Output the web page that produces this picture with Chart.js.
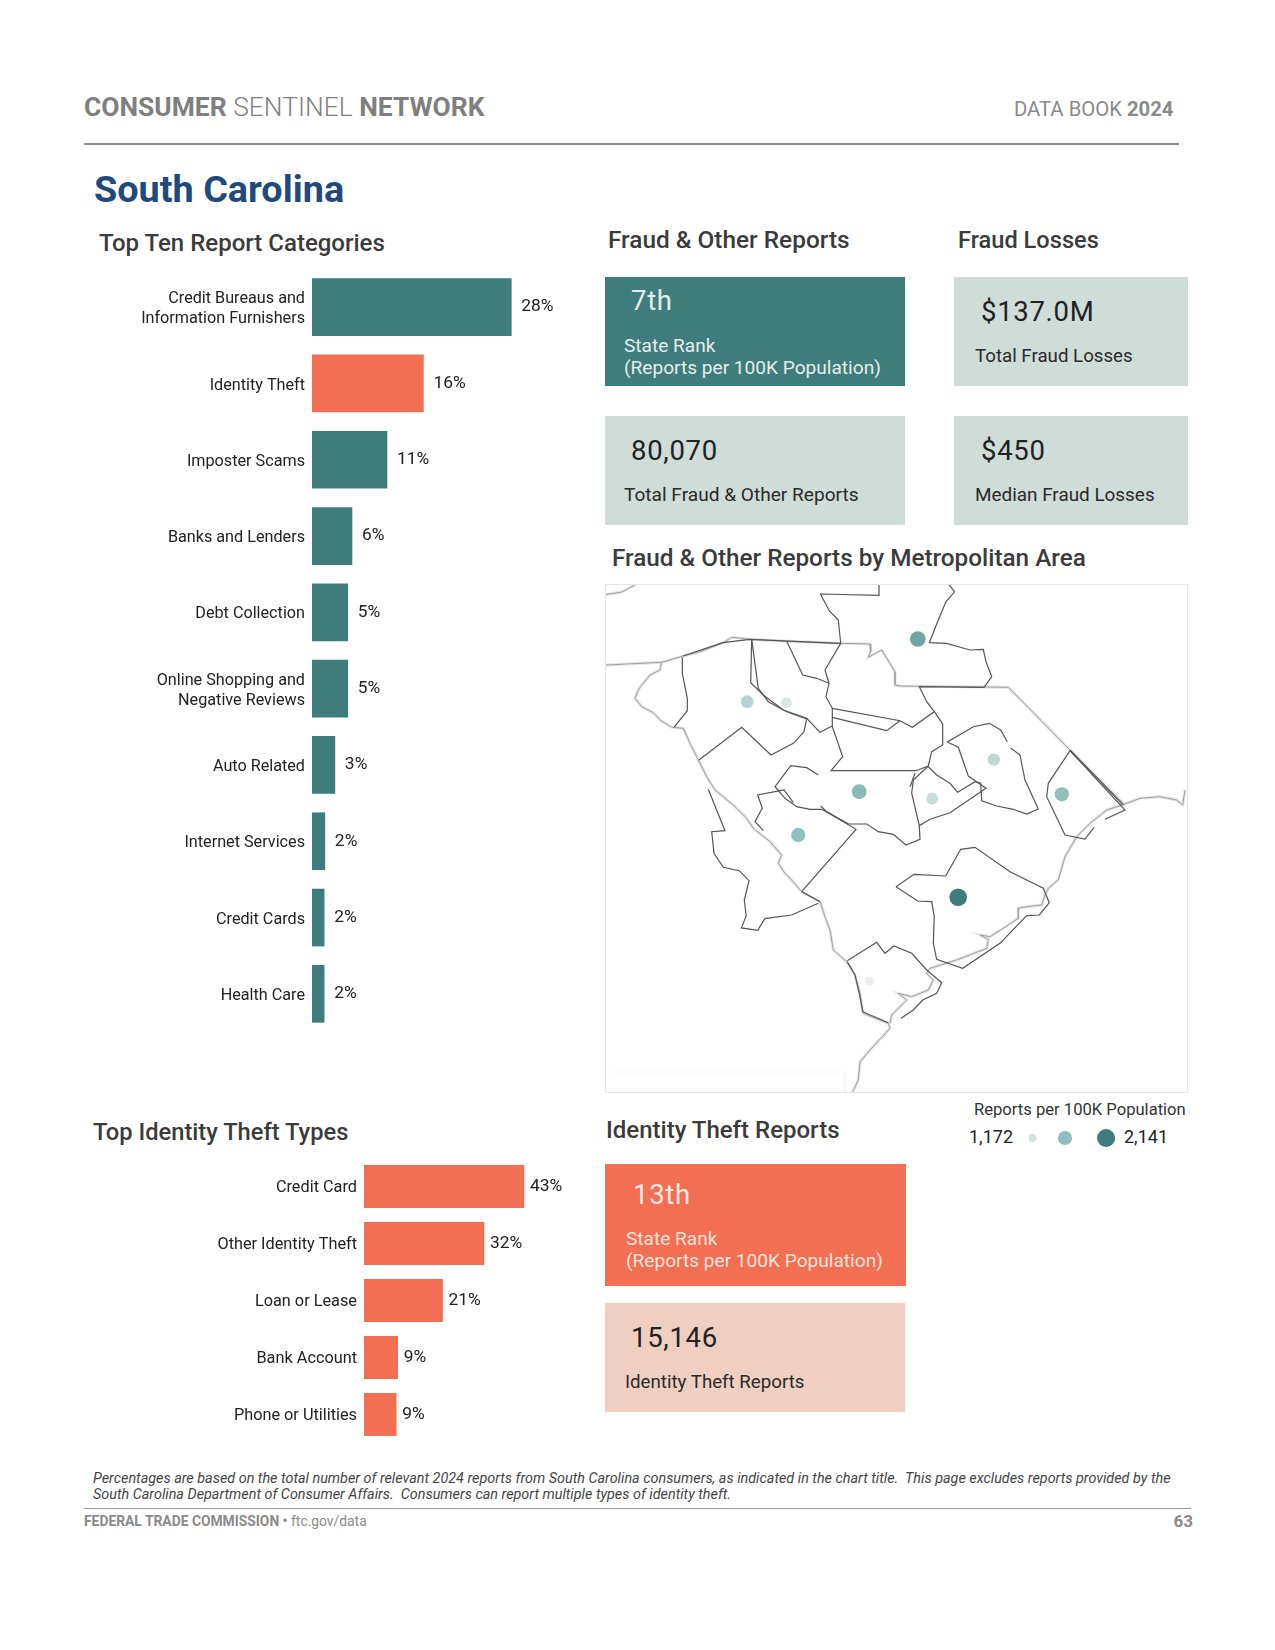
<!DOCTYPE html>
<html>
<head>
<meta charset="utf-8">
<title>South Carolina</title>
<script src="https://cdn.jsdelivr.net/npm/chart.js@4"></script>
<style>
  body { margin: 0; background: #fff; font-family: Roboto, sans-serif; color: #222; }
  #page { position: relative; width: 1275px; height: 1650px; overflow: hidden; }
  .t { position: absolute; white-space: nowrap; transform: translateY(-50%); line-height: 1; }
  .h { font-size: 24px; font-weight: 500; color: #3b3b3b; }
  .big { font-size: 27.5px; color: #222; letter-spacing: 0.7px; }
  .small { font-size: 19.1px; color: #2a2a2a; }
  .lt { color: #e4eeeb; }
  .box, .rule, canvas { position: absolute; }
  .note { font-size: 14.38px; font-style: italic; color: #444; }
</style>
</head>
<body>
<div id="page">
  <div class="t" style="left:84px;top:107px;font-size:26.4px;color:#7f7f7f;font-weight:700">CONSUMER <span style="font-weight:300">SENTINEL</span> NETWORK</div>
  <div class="t" style="left:1014px;top:109px;font-size:20.3px;color:#8a8a8a">DATA BOOK <b>2024</b></div>
  <div class="rule" style="left:84px;top:143px;width:1095px;height:2px;background:#8c8c8c"></div>

  <div class="t" style="left:94px;top:190px;font-size:37.8px;font-weight:700;color:#1f4a7a">South Carolina</div>
  <div class="t h" style="left:99px;top:243px">Top Ten Report Categories</div>
  <div class="t h" style="left:608px;top:240px;font-size:24.4px">Fraud &amp; Other Reports</div>
  <div class="t h" style="left:958px;top:241px;font-size:23.6px">Fraud Losses</div>

  <div class="box" style="left:604.5px;top:277px;width:300px;height:109px;background:#3e7d7c"></div>
  <div class="box" style="left:954px;top:277px;width:234px;height:109px;background:#d0dcd8"></div>
  <div class="box" style="left:604.5px;top:416px;width:300px;height:109px;background:#d0dcd8"></div>
  <div class="box" style="left:954px;top:416px;width:234px;height:109px;background:#d0dcd8"></div>

  <div class="t big lt" style="left:631px;top:301px">7th</div>
  <div class="t small lt" style="left:624px;top:346px">State Rank</div>
  <div class="t small lt" style="left:624px;top:368px">(Reports per 100K Population)</div>
  <div class="t big" style="left:981px;top:312px">$137.0M</div>
  <div class="t small" style="left:975px;top:356px;font-size:18.7px">Total Fraud Losses</div>
  <div class="t big" style="left:631px;top:451px">80,070</div>
  <div class="t small" style="left:624px;top:495px">Total Fraud &amp; Other Reports</div>
  <div class="t big" style="left:981px;top:451px">$450</div>
  <div class="t small" style="left:975px;top:495px;font-size:18.9px">Median Fraud Losses</div>

  <div class="t h" style="left:612px;top:558px;font-size:24.3px">Fraud &amp; Other Reports by Metropolitan Area</div>
  <canvas id="mapChart" width="581" height="507" style="left:606px;top:585px;outline:1px solid #e6e6e6"></canvas>

  <canvas id="topChart" width="478" height="763" style="left:84px;top:269px"></canvas>

  <div class="t h" style="left:93px;top:1133px;font-size:23.7px">Top Identity Theft Types</div>
  <canvas id="idChart" width="480" height="285" style="left:84px;top:1158px"></canvas>

  <div class="t h" style="left:606px;top:1130px">Identity Theft Reports</div>
  <div class="t" style="left:974px;top:1110px;font-size:16.6px;color:#333">Reports per 100K Population</div>
  <div class="t" style="left:969px;top:1137px;font-size:18px">1,172</div>
  <canvas id="legendChart" width="93" height="30" style="left:1022px;top:1123px"></canvas>
  <div class="t" style="left:1124px;top:1137px;font-size:18px">2,141</div>

  <div class="box" style="left:605px;top:1164px;width:301px;height:122px;background:#f26f54"></div>
  <div class="box" style="left:604.5px;top:1303px;width:300px;height:109px;background:#eecfc2"></div>
  <div class="t big" style="left:633px;top:1195px;color:#fbe9e3">13th</div>
  <div class="t small" style="left:626px;top:1239px;color:#fbe3db">State Rank</div>
  <div class="t small" style="left:626px;top:1261px;color:#fbe3db">(Reports per 100K Population)</div>
  <div class="t big" style="left:631px;top:1338px">15,146</div>
  <div class="t small" style="left:625px;top:1382px;font-size:18.7px">Identity Theft Reports</div>

  <div class="t note" style="left:93px;top:1479px">Percentages are based on the total number of relevant 2024 reports from South Carolina consumers, as indicated in the chart title.&nbsp; This page excludes reports provided by the</div>
  <div class="t note" style="left:93px;top:1495px">South Carolina Department of Consumer Affairs.&nbsp; Consumers can report multiple types of identity theft.</div>
  <div class="rule" style="left:84px;top:1508px;width:1107px;height:1px;background:#999"></div>
  <div class="t" style="left:84px;top:1522px;font-size:13.85px;color:#8a8a8a"><b>FEDERAL TRADE COMMISSION • </b>ftc.gov/data</div>
  <div class="t" style="right:82px;top:1521px;font-size:17px;font-weight:700;color:#8a8a8a">63</div>
</div>

<script>
// top ten categories
const topLabels = [
  ["Credit Bureaus and", "Information Furnishers"], "Identity Theft", "Imposter Scams", "Banks and Lenders",
  "Debt Collection", ["Online Shopping and", "Negative Reviews"], "Auto Related", "Internet Services",
  "Credit Cards", "Health Care"
];
const topValues = [27.9, 15.6, 10.5, 5.6, 5.0, 5.0, 3.2, 1.8, 1.7, 1.7];

// identity theft types
const idLabels = ["Credit Card", "Other Identity Theft", "Loan or Lease", "Bank Account", "Phone or Utilities"];
const idValues = [43.2, 32.4, 21.2, 9.1, 8.7];

// metro areas, x/y
const metroX = [917.8, 747.2, 786.5, 993.8, 1061.8, 859.2, 932.2, 798.2, 958.2, 869.5];
const metroY = [639, 701.7, 702.7, 759.7, 794.3, 791.7, 798.7, 835, 897.3, 981];
const metroReports = [1850, 1465, 1270, 1415, 1655, 1705, 1365, 1655, 2141, 1172];
const legendValues = [1172, 1600, 2141];

// county outlines
const outlines = [
  [[682.3,657.3],[682.3,673.3],[687.3,698.3],[687.3,710.7],[674,727.3]],
  [[751.7,639.3],[750.7,682.7],[763.3,695],[783.3,710],[806.7,718.3],[820,732.3],[832.3,726]],
  [[751.7,639.3],[758.3,688.3],[768.3,701.7],[786.7,711.7],[806.7,719],[804,731.7],[793.3,743.3],[771,755],[741.7,727.3],[699,760]],
  [[786.7,641.3],[802.7,675],[816.7,678.3],[829,683.3]],
  [[879,584.6],[879,595.4],[820.5,594],[829.2,610.7],[838.3,620],[840.7,643.3],[825,670],[829,683.3],[826,696.7],[832.3,708.3],[832.3,726.7],[842.7,756.7],[831,770.7],[916,770.7],[928.3,766],[931.7,751.7],[942.7,745],[942.7,724],[934.3,711.7],[912.3,727.3],[900,720.7],[832.3,708.3]],
  [[832.3,717.3],[886.7,730.7],[900,720.7]],
  [[949,584.6],[954.6,591.8],[945.9,601.8],[938.3,620],[929.3,642.7],[946.7,643.3],[970,650],[983.3,649.3],[986,661.7],[991.7,676.7],[984,687.3],[919.3,686.7],[926.7,701.7],[934.3,711.7]],
  [[1007.3,741.7],[1000.7,730],[989.3,723.3],[973.3,726.7],[947.3,742],[958.3,747.3],[968.3,776],[986,788.3],[950,812.7],[930,819.3],[919.3,825.7],[911.7,793.3],[913.3,780],[928.3,766]],
  [[1010.7,748],[1020,755],[1025,780],[1038.3,809],[1026.7,814],[1013.3,809.3],[996.7,806],[981.7,800.7],[980.7,783.3],[975,781.7],[957.7,792.3],[950,783.3],[936.7,775],[928.3,766.7]],
  [[910,786.7],[915,773.3]],
  [[919.3,825.7],[920,839.3],[906,845],[893.3,834.3],[878.3,831.7],[866.7,824],[848.3,824],[826.7,811.7],[820.7,806]],
  [[818.3,775],[806.7,767.7],[790.7,765.7],[775,786.7],[785,798.3],[796.7,806.7],[810,809.3],[821.7,809.3],[848.3,824]],
  [[763.3,830.7],[755,821.7],[762.3,808.3],[757.7,795],[784,790],[793.3,802.7]],
  [[826.7,811.7],[856,829.3],[801.7,891.7]],
  [[708.3,789.3],[725,830.7],[711.7,831.7],[714,853.3],[723.3,867.3],[739.3,870.7],[749,880.7],[744.3,900],[746.2,916],[741.4,927.9],[757.7,930.4],[764.8,918.6],[791.7,915],[818.3,903.3]],
  [[896,886.7],[914,874.3],[945.7,876],[960.7,849.3],[975,847.3],[1010,871.7],[1043.3,888.3],[1049.3,902.7],[1039.3,915],[1026.7,915.7],[1000,943.3],[962.7,968.3],[936.7,959.3],[933.3,943.3],[934.3,916.7],[931.7,901.7],[917.7,901],[896,886.7]],
  [[847.3,960.7],[876.7,942.3],[885,953.3],[894,946],[911.7,953.3],[926.7,970],[941.7,982.7],[936.7,993.3],[922.7,1000],[913.3,1010],[901,1018.3]],
  [[847.3,961.7],[855,975],[859.3,993.3],[862.7,1011.7],[888.3,1022.7]],
  [[802,891.7],[820,901.7]],
  [[1094,827.3],[1085,839],[1065,835],[1046.7,796.7],[1048.3,783.3],[1070,750.7],[1125,810],[1105,819.3]],
  [[683,656],[723,642.7],[750,639.3],[840,643.3]],
  [[1070,750],[1123,805]]
];

// state line, river and coast
const borders = [
  [[606,665],[661.7,662.3],[683.3,656],[700,651.7],[723.3,642.7],[731.7,637.3],[750,639.3],[786.7,641.3],[840,643.3],[870,644],[870.7,651.7],[868.3,657.3],[881.7,650],[895,671.7],[895,685],[900,686],[1008.3,687.3],[1070,750],[1125,805]],
  [[661.7,662.3],[660,670],[650,675],[641.7,685],[638.3,690],[635,698.3],[641.7,706.7],[653.3,712.7],[660,720],[671.7,727.3],[683.3,728.3],[690,743.3],[698.3,760],[706.7,776.7],[715,790],[733.3,805],[746.7,818.3],[753.3,828.3],[770,841.7],[781.7,855],[778.3,863.3],[785,873.3],[793.3,881.7],[801.7,891.7],[820,901.7],[825,916.7],[830,930],[833.3,950],[846.7,961.7],[855,975],[860,993.3],[863.3,1013.3],[888.3,1023.3],[890,1028.3],[870,1050],[860,1061.7],[858.3,1080],[852.7,1091.7]],
  [[1185,790],[1182.7,805],[1176.7,800],[1160,796.7],[1140,798.3],[1125,804],[1106.7,810],[1090,823.3],[1076.7,836.7],[1065,856.7],[1058.3,880],[1048.3,888.3],[1045,895],[1041.7,905],[1026.7,906.7],[1018.3,908.3],[1018.3,918.3],[1003.3,928.3],[990,936.7],[980,935],[988.3,939.3],[986.7,948.3],[956.7,960],[930,968.3],[926.7,973.3],[933.3,980],[928.3,990],[911.7,996.7],[898.3,993.3],[906.7,1000],[891.7,1015],[890,1023.3]],
  [[605.8,594.6],[621.6,592.1],[635.5,584.6]]
];

// faint box left in the lower corner of the map
const mapCorner = [[612,1072],[845,1072],[845,1092]];

const teal = "#3e7d7c";
const coral = "#f26f54";

function mix(a, b, t) {
  return a.map((v, i) => Math.round(v + (b[i] - v) * t));
}

// colour and radius of a metro dot from its reports
function dotT(v) {
  return (v - 1172) / (2141 - 1172);
}
function dotColor(v) {
  let t = dotT(v);
  let c = t < 0.5 ? mix([238, 238, 238], [143, 192, 188], t / 0.5) : mix([143, 192, 188], [62, 125, 124], (t - 0.5) / 0.5);
  return "rgb(" + c.join(",") + ")";
}
function dotRadius(v) {
  return 4.5 + 4.3 * Math.pow(dotT(v), 0.7);
}

function toPoints(line) {
  return line.map(p => ({x: p[0], y: p[1]}));
}

function lineSet(line, color, width) {
  return {data: toPoints(line), showLine: true, pointRadius: 0, borderColor: color, borderWidth: width};
}

const valueLabels = {
  id: "valueLabels",
  afterDatasetsDraw(chart, args, opts) {
    const ctx = chart.ctx;
    const meta = chart.getDatasetMeta(0);
    ctx.save();
    ctx.font = "17.4px Roboto";
    ctx.fillStyle = "#222";
    ctx.textBaseline = "middle";
    meta.data.forEach((bar, i) => {
      ctx.fillText(Math.round(chart.data.datasets[0].data[i]) + "%", bar.x + opts.gap, bar.y);
    });
    ctx.restore();
  }
};

function barChart(id, labels, values, colors, max, yWidth, thick, gap, size, shift) {
  new Chart(document.getElementById(id), {
    type: "bar",
    data: {labels: labels, datasets: [{data: values, backgroundColor: colors, barThickness: thick}]},
    options: {
      indexAxis: "y",
      responsive: false,
      animation: false,
      layout: {padding: 0, autoPadding: false},
      plugins: {legend: {display: false}, tooltip: {enabled: false}, valueLabels: {gap: gap}},
      scales: {
        x: {display: false, min: 0, max: max},
        y: {
          afterFit(scale) {
            scale.width = yWidth;
            scale.paddingTop = 0;
            scale.paddingBottom = 0;
          },
          grid: {display: false, drawTicks: false},
          border: {display: false},
          ticks: {color: "#222", padding: 7, labelOffset: shift, autoSkip: false, font: {family: "Roboto", size: size, lineHeight: 1.22}}
        }
      }
    },
    plugins: [valueLabels]
  });
}

barChart("topChart", topLabels, topValues, topValues.map((v, i) => i == 1 ? coral : teal), 35, 228, 57, 10, 16.2, 2);
barChart("idChart", idLabels, idValues, coral, 54, 280, 42.5, 6, 16.3, 1);

new Chart(document.getElementById("mapChart"), {
  type: "scatter",
  data: {
    datasets: [
      {
        data: metroX.map((x, i) => ({x: x, y: metroY[i]})),
        pointBackgroundColor: metroReports.map(dotColor),
        pointBorderWidth: 0,
        pointRadius: metroReports.map(dotRadius)
      },
      ...outlines.map(l => lineSet(l, "#555", 1.2)),
      ...borders.map(l => lineSet(l, "#a0a0a0", 1)),
      ...borders.map(l => lineSet(l, "#e4e4e4", 3)),
      lineSet(mapCorner, "#f5f5f5", 1)
    ]
  },
  options: {
    responsive: false,
    animation: false,
    layout: {padding: 0, autoPadding: false},
    plugins: {legend: {display: false}, tooltip: {enabled: false}},
    scales: {
      x: {display: false, min: 606, max: 1187},
      y: {display: false, min: 585, max: 1092, reverse: true}
    }
  }
});

new Chart(document.getElementById("legendChart"), {
  type: "scatter",
  data: {
    datasets: [{
      data: legendValues.map(v => ({x: v, y: 0})),
      pointBackgroundColor: [ "#d9dfde", "#8fbdba", "#3e7d7c" ],
      pointBorderWidth: 0,
      pointRadius: [4, 7, 9],
      clip: false
    }]
  },
  options: {
    responsive: false,
    animation: false,
    layout: {padding: 0, autoPadding: false},
    plugins: {legend: {display: false}, tooltip: {enabled: false}},
    scales: {
      x: {display: false, min: 1033.6, max: 2259},
      y: {display: false, min: -1, max: 1}
    }
  }
});
</script>
</body>
</html>
